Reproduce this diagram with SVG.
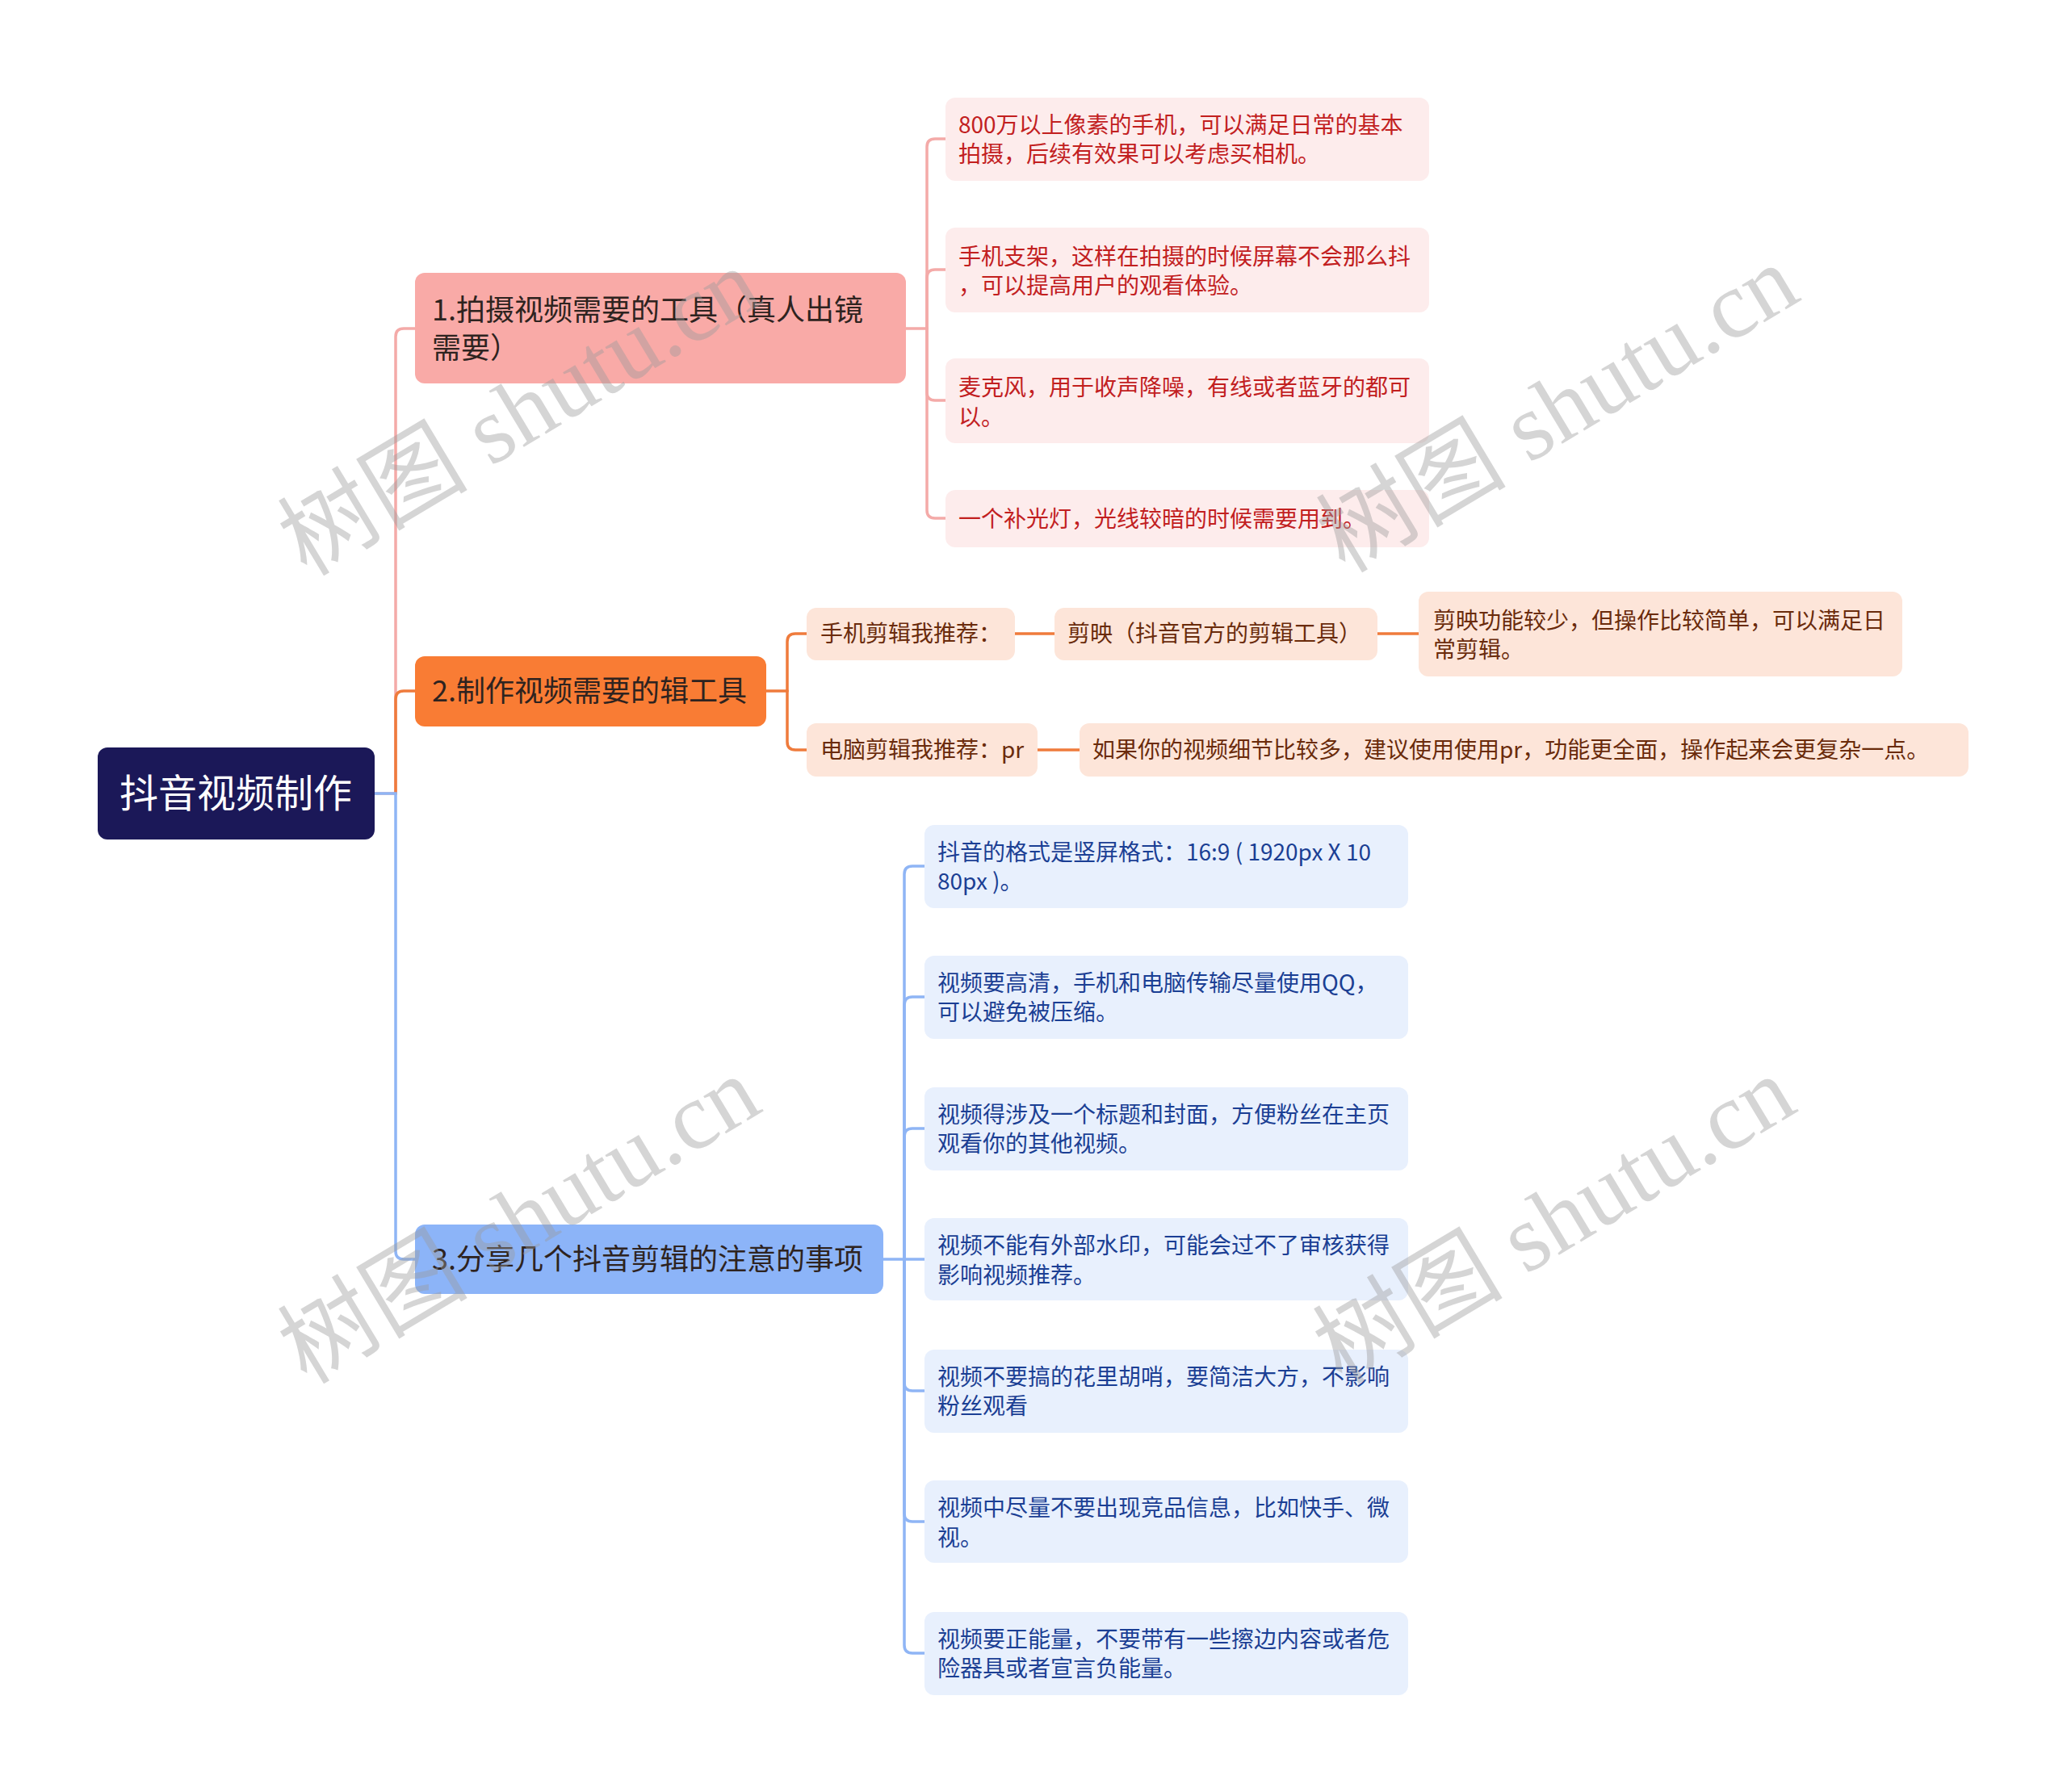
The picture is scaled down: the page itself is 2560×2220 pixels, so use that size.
<svg xmlns="http://www.w3.org/2000/svg" width="2560" height="2220" viewBox="0 0 2560 2220">
<style>
text{font-family:"Noto Sans CJK SC","Noto Sans",sans-serif}
.root{fill:#1b1858}
.rt{fill:#ffffff;font-size:48px}
.l1t{fill:#2e2320;font-size:36px}
.pk{fill:#fdecec}
.pkt{fill:#c2201f;font-size:28px}
.og{fill:#fde5d9}
.ogt{fill:#6a2b0b;font-size:28px}
.bl{fill:#e8f0fd}
.blt{fill:#1b3f94;font-size:28px}
.c{fill:none;stroke-width:3.5;stroke-linecap:round}
.cp{stroke:#f4aaa8}
.co{stroke:#ef7b3c}
.cb{stroke:#8fb5f5}
.wm{font-family:"Liberation Serif","Noto Sans CJK SC",serif;font-size:118px;fill:#9a9a9a;fill-opacity:0.42}
</style>
<g id="connectors">
<path class="c cp" d="M464,983 H490 V417 Q490,407 500,407 H514"/>
<path class="c co" d="M490,983 V866 Q490,856 500,856 H514"/>
<path class="c cb" d="M464,983 H490 V1550 Q490,1560 500,1560 H514"/>
<path class="c cp" d="M1122,407 H1148"/>
<path class="c cp" d="M1148,407 V182 Q1148,172 1158,172 H1171"/>
<path class="c cp" d="M1148,407 V344 Q1148,334 1158,334 H1171"/>
<path class="c cp" d="M1148,407 V486 Q1148,496 1158,496 H1171"/>
<path class="c cp" d="M1148,407 V632 Q1148,642 1158,642 H1171"/>
<path class="c co" d="M949,856 H975"/>
<path class="c co" d="M975,856 V795 Q975,785 985,785 H999"/>
<path class="c co" d="M975,856 V919 Q975,929 985,929 H999"/>
<path class="c co" d="M1257,785 H1306"/>
<path class="c co" d="M1706,785 H1757"/>
<path class="c co" d="M1285,929 H1337"/>
<path class="c cb" d="M1094,1560 H1120"/>
<path class="c cb" d="M1120,1560 V1083 Q1120,1073 1130,1073 H1145"/>
<path class="c cb" d="M1120,1560 V1245 Q1120,1235 1130,1235 H1145"/>
<path class="c cb" d="M1120,1560 V1408 Q1120,1398 1130,1398 H1145"/>
<path class="c cb" d="M1120,1560 H1145"/>
<path class="c cb" d="M1120,1560 V1713 Q1120,1723 1130,1723 H1145"/>
<path class="c cb" d="M1120,1560 V1875 Q1120,1885 1130,1885 H1145"/>
<path class="c cb" d="M1120,1560 V2038 Q1120,2048 1130,2048 H1145"/>
</g>
<g id="root"><rect class="root" x="121" y="926" width="343" height="114" rx="12"/><text class="rt" x="292" y="1000" text-anchor="middle">抖音视频制作</text></g>
<g id="n1"><rect x="514" y="338" width="608" height="137" rx="12" fill="#f9aaa7"/><text class="l1t" x="535" y="397">1.拍摄视频需要的工具（真人出镜</text><text class="l1t" x="535" y="444">需要）</text></g>
<g id="n2"><rect x="514" y="813" width="435" height="87" rx="12" fill="#f97c34"/><text class="l1t" x="535" y="869">2.制作视频需要的辑工具</text></g>
<g id="n3"><rect x="514" y="1517" width="580" height="86" rx="12" fill="#8cb4f8"/><text class="l1t" x="535" y="1573">3.分享几个抖音剪辑的注意的事项</text></g>
<g id="p1"><rect class="pk" x="1171" y="121" width="599" height="103" rx="12"/><text class="pkt" x="1187" y="165">800万以上像素的手机，可以满足日常的基本</text><text class="pkt" x="1187" y="201">拍摄，后续有效果可以考虑买相机。</text></g>
<g id="p2"><rect class="pk" x="1171" y="282" width="599" height="105" rx="12"/><text class="pkt" x="1187" y="328">手机支架，这样在拍摄的时候屏幕不会那么抖</text><text class="pkt" x="1187" y="364">，可以提高用户的观看体验。</text></g>
<g id="p3"><rect class="pk" x="1171" y="444" width="599" height="105" rx="12"/><text class="pkt" x="1187" y="490">麦克风，用于收声降噪，有线或者蓝牙的都可</text><text class="pkt" x="1187" y="527">以。</text></g>
<g id="p4"><rect class="pk" x="1171" y="607" width="599" height="71" rx="12"/><text class="pkt" x="1187" y="653">一个补光灯，光线较暗的时候需要用到。</text></g>
<g id="o1"><rect class="og" x="999" y="753" width="258" height="65" rx="12"/><text class="ogt" x="1016" y="795">手机剪辑我推荐：</text></g>
<g id="o2"><rect class="og" x="1306" y="753" width="400" height="65" rx="12"/><text class="ogt" x="1322" y="795">剪映（抖音官方的剪辑工具）</text></g>
<g id="o3"><rect class="og" x="1757" y="733" width="599" height="105" rx="12"/><text class="ogt" x="1775" y="779">剪映功能较少，但操作比较简单，可以满足日</text><text class="ogt" x="1775" y="815">常剪辑。</text></g>
<g id="o4"><rect class="og" x="999" y="896" width="286" height="66" rx="12"/><text class="ogt" x="1016" y="939">电脑剪辑我推荐：pr</text></g>
<g id="o5"><rect class="og" x="1337" y="896" width="1101" height="66" rx="12"/><text class="ogt" x="1353" y="939">如果你的视频细节比较多，建议使用使用pr，功能更全面，操作起来会更复杂一点。</text></g>
<g id="b1"><rect class="bl" x="1145" y="1022" width="599" height="103" rx="12"/><text class="blt" x="1161" y="1066">抖音的格式是竖屏格式：16:9 ( 1920px X 10</text><text class="blt" x="1161" y="1102">80px )。</text></g>
<g id="b2"><rect class="bl" x="1145" y="1184" width="599" height="103" rx="12"/><text class="blt" x="1161" y="1228">视频要高清，手机和电脑传输尽量使用QQ，</text><text class="blt" x="1161" y="1264">可以避免被压缩。</text></g>
<g id="b3"><rect class="bl" x="1145" y="1347" width="599" height="103" rx="12"/><text class="blt" x="1161" y="1391">视频得涉及一个标题和封面，方便粉丝在主页</text><text class="blt" x="1161" y="1427">观看你的其他视频。</text></g>
<g id="b4"><rect class="bl" x="1145" y="1509" width="599" height="102" rx="12"/><text class="blt" x="1161" y="1553">视频不能有外部水印，可能会过不了审核获得</text><text class="blt" x="1161" y="1590">影响视频推荐。</text></g>
<g id="b5"><rect class="bl" x="1145" y="1672" width="599" height="103" rx="12"/><text class="blt" x="1161" y="1716">视频不要搞的花里胡哨，要简洁大方，不影响</text><text class="blt" x="1161" y="1752">粉丝观看</text></g>
<g id="b6"><rect class="bl" x="1145" y="1834" width="599" height="102" rx="12"/><text class="blt" x="1161" y="1878">视频中尽量不要出现竞品信息，比如快手、微</text><text class="blt" x="1161" y="1915">视。</text></g>
<g id="b7"><rect class="bl" x="1145" y="1997" width="599" height="103" rx="12"/><text class="blt" x="1161" y="2041">视频要正能量，不要带有一些擦边内容或者危</text><text class="blt" x="1161" y="2077">险器具或者宣言负能量。</text></g>
<g id="watermarks">
<text class="wm" x="645" y="550" text-anchor="middle" transform="rotate(-31 645 514)">树图 shutu.cn</text>
<text class="wm" x="1931" y="546" text-anchor="middle" transform="rotate(-31 1931 510)">树图 shutu.cn</text>
<text class="wm" x="645" y="1551" text-anchor="middle" transform="rotate(-31 645 1515)">树图 shutu.cn</text>
<text class="wm" x="1927" y="1551" text-anchor="middle" transform="rotate(-31 1927 1515)">树图 shutu.cn</text>
</g>
</svg>
